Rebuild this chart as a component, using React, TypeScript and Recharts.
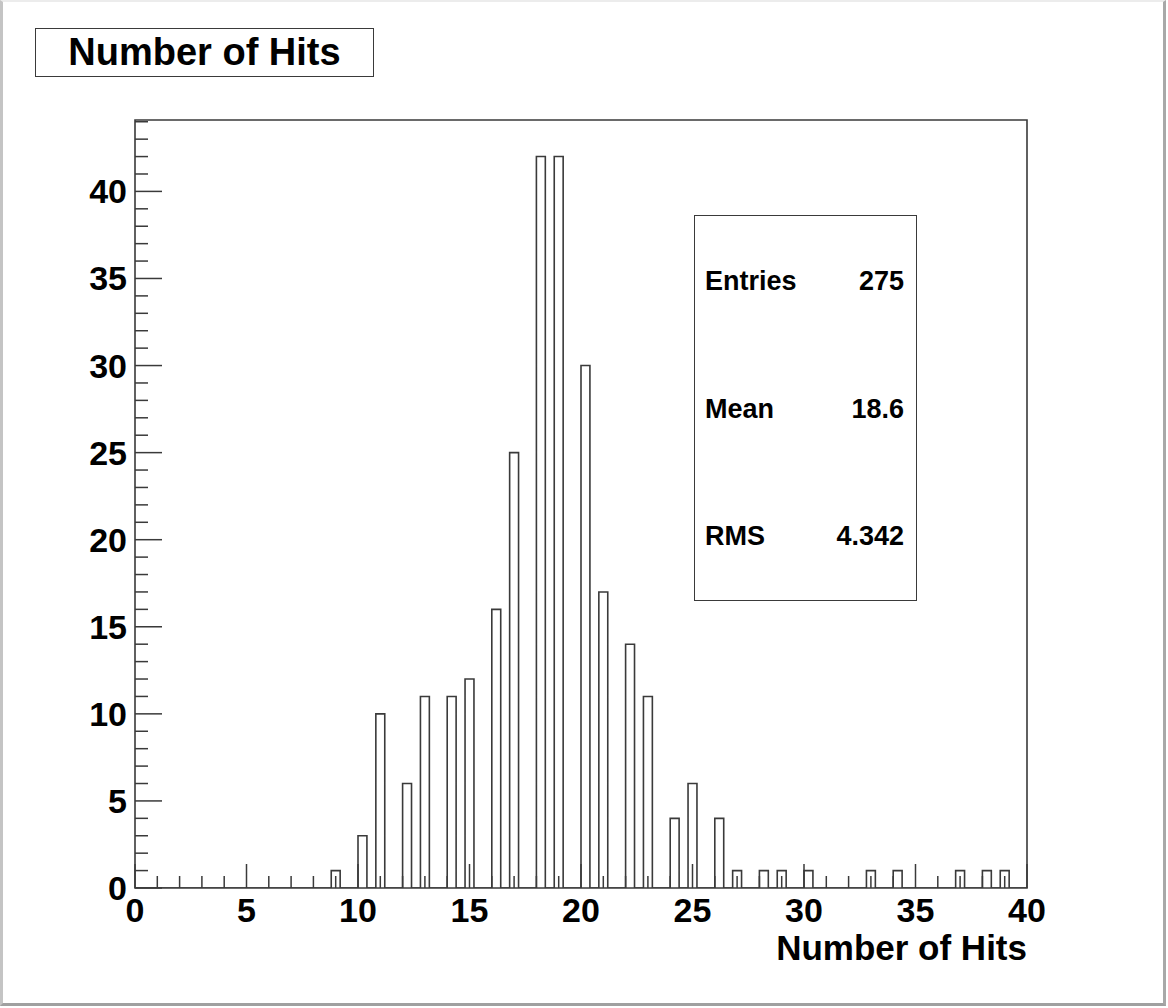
import React from 'react';
import { ComposedChart, Line, XAxis, YAxis, ReferenceArea } from 'recharts';

// Histogram content: number of hits (integer) and how many events had it
const hitValues = [9, 10, 11, 12, 13, 14, 15, 16, 17, 18, 19, 20, 21, 22, 23, 24, 25, 26, 27, 28, 29, 30, 33, 34, 37, 38, 39];
const hitCounts = [1, 3, 10, 6, 11, 11, 12, 16, 25, 42, 42, 30, 17, 14, 11, 4, 6, 4, 1, 1, 1, 1, 1, 1, 1, 1, 1];

// Histogram binning (ROOT TH1: 100 bins on [0, 40])
const nBins = 100;
const xMin = 0;
const xMax = 40;
const yMax = 44.1;

const xTicks = Array.from({ length: 41 }, (_, i) => i);
const yTicks = Array.from({ length: 45 }, (_, i) => i);

const statLabels = ['Entries', 'Mean', 'RMS'];
const statValues = ['275', '18.6', '4.342'];
const titleText = 'Number of Hits';
const xTitle = 'Number of Hits';

const binContents: number[] = new Array(nBins).fill(0);
hitValues.forEach((v, i) => {
  const k = Math.floor(((v - xMin) * nBins) / (xMax - xMin));
  if (k >= 0 && k < nBins) binContents[k] += hitCounts[i];
});
const histData = Array.from({ length: nBins + 1 }, (_, k) => ({
  x: xMin + (k * (xMax - xMin)) / nBins,
  y: k < nBins ? binContents[k] : 0,
}));

const FONT = '"Liberation Sans", Arial, Helvetica, sans-serif';
const LINE = '#3a3a3a';

const XTick = (props: any) => {
  const { x, y, payload } = props;
  const v = payload.value;
  const major = v % 5 === 0;
  return (
    <g>
      <line x1={x} y1={y} x2={x} y2={y - (major ? 24 : 12)} stroke={LINE} strokeWidth={1.5} />
      {major && (
        <text x={x} y={y + 34} textAnchor="middle" fontFamily={FONT} fontWeight="bold" fontSize={34} fill="#000">
          {v}
        </text>
      )}
    </g>
  );
};

const YTick = (props: any) => {
  const { x, y, payload } = props;
  const v = payload.value;
  const major = v % 5 === 0;
  return (
    <g>
      <line x1={x} y1={y} x2={x + (major ? 27 : 13)} y2={y} stroke={LINE} strokeWidth={1.5} />
      {major && (
        <text x={x - 8} y={y + 12} textAnchor="end" fontFamily={FONT} fontWeight="bold" fontSize={34} fill="#000">
          {v}
        </text>
      )}
    </g>
  );
};

const XLabel = (props: any) => {
  const vb = props.viewBox;
  return (
    <text x={vb.x + vb.width} y={vb.y + 72} textAnchor="end" fontFamily={FONT} fontWeight="bold" fontSize={35} fill="#000">
      {xTitle}
    </text>
  );
};

export default function App() {
  return (
    <div style={{ position: 'absolute', left: 0, top: 0, width: 1168, height: 1008, background: '#fff', fontFamily: FONT }}>
      <div
        style={{
          position: 'absolute',
          left: 0,
          top: 0,
          width: 1166,
          height: 1006,
          boxSizing: 'border-box',
          borderLeft: '3px solid #c4c4c4',
          borderRight: '3px solid #a8a8a8',
          borderBottom: '3px solid #a0a0a0',
          borderTop: '2px solid #ececec',
        }}
      />
      <div style={{ position: 'absolute', left: 0, top: 0 }}>
        <ComposedChart width={1168} height={1008} data={histData} margin={{ top: 120, right: 141, bottom: 60, left: 75 }}>
          <XAxis
            dataKey="x"
            type="number"
            domain={[xMin, xMax]}
            ticks={xTicks}
            interval={0}
            allowDataOverflow
            height={60}
            axisLine={false}
            tickLine={false}
            tickSize={0}
            tickMargin={0}
            tick={<XTick />}
            label={<XLabel />}
          />
          <YAxis
            type="number"
            domain={[0, yMax]}
            ticks={yTicks}
            interval={0}
            allowDataOverflow
            width={60}
            axisLine={false}
            tickLine={false}
            tickSize={0}
            tickMargin={0}
            tick={<YTick />}
          />
          <ReferenceArea x1={xMin} x2={xMax} y1={0} y2={yMax} fill="none" stroke={LINE} strokeWidth={1.6} ifOverflow="extendDomain" />
          <Line
            dataKey="y"
            type="stepAfter"
            stroke={LINE}
            strokeWidth={1.6}
            dot={false}
            activeDot={false}
            isAnimationActive={false}
          />
        </ComposedChart>
      </div>
      <div
        style={{
          position: 'absolute',
          left: 35,
          top: 28,
          width: 339,
          height: 49,
          boxSizing: 'border-box',
          border: `1.6px solid ${LINE}`,
          background: '#fff',
          textAlign: 'center',
          fontWeight: 'bold',
          fontSize: 38,
          lineHeight: '46px',
          color: '#000',
        }}
      >
        {titleText}
      </div>
      <div
        style={{
          position: 'absolute',
          left: 694,
          top: 215,
          width: 223,
          height: 386,
          boxSizing: 'border-box',
          border: `1.6px solid ${LINE}`,
          background: '#fff',
        }}
      >
        {statLabels.map((lab, i) => (
          <div
            key={lab}
            style={{
              position: 'absolute',
              left: 10,
              right: 12,
              top: 50 + i * 127.5,
              display: 'flex',
              justifyContent: 'space-between',
              fontWeight: 'bold',
              fontSize: 27,
              lineHeight: '30px',
              color: '#000',
            }}
          >
            <span>{lab}</span>
            <span>{statValues[i]}</span>
          </div>
        ))}
      </div>
    </div>
  );
}
